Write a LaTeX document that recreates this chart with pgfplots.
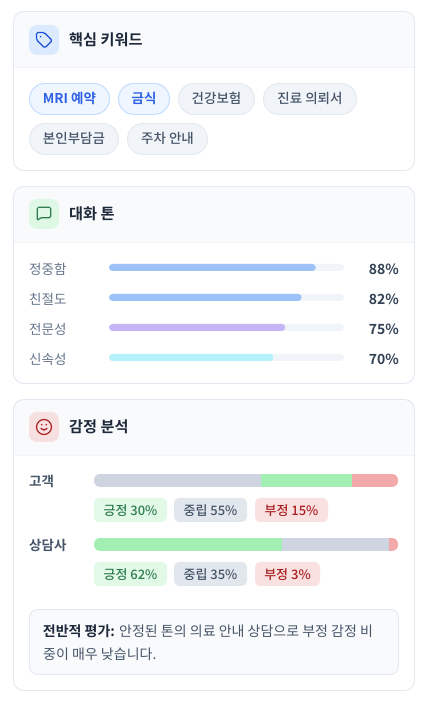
\documentclass[border=0pt]{standalone}
\usepackage{fontspec}
\setmainfont{Noto Sans CJK KR}[BoldFont={Noto Sans CJK KR Bold}]
\newfontfamily\med{Noto Sans CJK KR Medium}
\usepackage{pgfplots}
\pgfplotsset{compat=1.18}
\definecolor{cardline}{HTML}{E2E8F0}
\definecolor{headbg}{HTML}{F8FAFC}
\definecolor{headline}{HTML}{F1F5F9}
\definecolor{ink}{HTML}{1E293B}
\definecolor{slate}{HTML}{475569}
\definecolor{muted}{HTML}{64748B}
\definecolor{dark}{HTML}{334155}
\definecolor{tagbg}{HTML}{DBEAFE}
\definecolor{tagfg}{HTML}{1D4ED8}
\definecolor{greenbg}{HTML}{DFF8E5}
\definecolor{greenfg}{HTML}{2E7D4F}
\definecolor{redbg}{HTML}{F8E0E0}
\definecolor{redfg}{HTML}{A92020}
\definecolor{chipblue}{HTML}{EFF6FF}
\definecolor{chipbluel}{HTML}{BFDBFE}
\definecolor{chipbluet}{HTML}{2F62E6}
\definecolor{chipgrey}{HTML}{F1F5F9}
\definecolor{barblue}{HTML}{9CC2F7}
\definecolor{barviolet}{HTML}{C4B5F7}
\definecolor{barcyan}{HTML}{B5F1FA}
\definecolor{track}{HTML}{F1F5F9}
\definecolor{segpos}{HTML}{A3EEB2}
\definecolor{segneu}{HTML}{CFD5E0}
\definecolor{segneg}{HTML}{F2A9A9}
\definecolor{pillpos}{HTML}{E2F9E8}
\definecolor{pillposT}{HTML}{2E7D4F}
\definecolor{pillneu}{HTML}{E2E6ED}
\definecolor{pillneg}{HTML}{F9E1E1}
\newcommand\sz[1]{\fontsize{#1}{#1}\selectfont}
\newcommand\card[3]{%
  \fill[white,rounded corners=10pt] (13.5,#1) rectangle (414.5,#3);
  \begin{scope}
    \clip[rounded corners=10pt] (13.5,#1) rectangle (414.5,#3);
    \fill[headbg] (13.5,#1) rectangle (414.5,#2);
    \draw[headline,line width=.8pt] (13.5,#2) -- (414.5,#2);
  \end{scope}
  \draw[cardline,line width=.9pt,rounded corners=10pt] (13.5,#1) rectangle (414.5,#3);
}
\newcommand\chip[7]{%
  \draw[#5,fill=#4,line width=.9pt,rounded corners=15.5pt] (#1+.5,#3+.5) rectangle (#2-.5,#3+31.5);
  \node[anchor=base,inner sep=0pt,text=#6] at ({(#1+#2)/2},#3+21) {\sz{13.5}#7};
}
\newcommand\pill[6]{%
  \fill[#4,rounded corners=5pt] (#1,#3) rectangle (#2,#3+24);
  \node[anchor=base,inner sep=0pt,text=#5] at ({(#1+#2)/2},#3+17.2) {\sz{13}\med #6};
}
\newcommand\txt[4]{\node[anchor=base west,inner sep=0pt,text=#3] at (#1,#2) {#4};}
\newcommand\txr[4]{\node[anchor=base east,inner sep=0pt,text=#3] at (#1,#2) {#4};}
\begin{document}
\begin{tikzpicture}
\path (0pt,0pt) rectangle (431pt,708pt);
\begin{scope}[x=1pt,y=-1pt,yshift=708pt]
  \card{11.5}{67.5}{170.5}
  \card{186.5}{242.5}{383.5}
  \card{399.5}{455.5}{690.5}
  \fill[tagbg,rounded corners=8pt] (29,25) rectangle (59,55);
  \fill[greenbg,rounded corners=8pt] (29,199) rectangle (59,229);
  \fill[redbg,rounded corners=8pt] (29,412) rectangle (59,442);
  \begin{scope}[shift={(35,31)},x=.75pt,y=-.75pt,tagfg,line width=1.2pt,line join=round]
    \draw[rounded corners=1.4pt] (2,2) -- (12.2,2) -- (22.9,12.7) -- (12.9,22.7) -- (2,11.8) -- cycle;
    \fill (7.5,7.5) circle (1.1);
  \end{scope}
  \begin{scope}[shift={(35,205)},x=.75pt,y=-.75pt,greenfg,line width=1.2pt,line join=round]
    \draw[rounded corners=1.4pt] (3,3) -- (21,3) -- (21,17) -- (7,17) -- (3,21) -- cycle;
  \end{scope}
  \begin{scope}[shift={(35,418)},x=.75pt,y=-.75pt,redfg,line width=1.2pt,line cap=round]
    \draw (12,12) circle (10);
    \draw (8,14) .. controls (9,15.5) and (10.5,16) .. (12,16) .. controls (13.5,16) and (15,15.5) .. (16,14);
    \fill (9,9) circle (1.1);
    \fill (15,9) circle (1.1);
  \end{scope}
  \txt{69}{46}{ink}{\sz{15.2}\bfseries 핵심 키워드}
  \txt{69}{220}{ink}{\sz{15.2}\bfseries 대화 톤}
  \txt{69}{433}{ink}{\sz{15.2}\bfseries 감정 분석}
  \chip{29}{110}{83}{chipblue}{chipbluel}{chipbluet}{\bfseries MRI 예약}
  \chip{118}{170}{83}{chipblue}{chipbluel}{chipbluet}{\bfseries 금식}
  \chip{178}{255}{83}{chipgrey}{cardline}{slate}{\med 건강보험}
  \chip{263}{357}{83}{chipgrey}{cardline}{slate}{\med 진료 의뢰서}
  \chip{29}{119}{123}{chipgrey}{cardline}{slate}{\med 본인부담금}
  \chip{127}{208}{123}{chipgrey}{cardline}{slate}{\med 주차 안내}
  \txt{29}{274.5}{muted}{\sz{13.5}정중함}
  \txt{29}{304.5}{muted}{\sz{13.5}친절도}
  \txt{29}{334.5}{muted}{\sz{13.5}전문성}
  \txt{29}{364.5}{muted}{\sz{13.5}신속성}
  \txr{399}{274.8}{dark}{\sz{14}\bfseries 88\%}
  \txr{399}{304.8}{dark}{\sz{14}\bfseries 82\%}
  \txr{399}{334.8}{dark}{\sz{14}\bfseries 75\%}
  \txr{399}{364.8}{dark}{\sz{14}\bfseries 70\%}
  \txt{29}{487}{slate}{\sz{13.5}\bfseries 고객}
  \txt{29}{551}{slate}{\sz{13.5}\bfseries 상담사}
  \pill{94}{167}{498}{pillpos}{pillposT}{긍정 30\%}
  \pill{174}{247}{498}{pillneu}{slate}{중립 55\%}
  \pill{255}{328}{498}{pillneg}{redfg}{부정 15\%}
  \pill{94}{167}{562}{pillpos}{pillposT}{긍정 62\%}
  \pill{174}{247}{562}{pillneu}{slate}{중립 35\%}
  \pill{255}{320}{562}{pillneg}{redfg}{부정 3\%}
  \draw[cardline,fill=headbg,line width=.9pt,rounded corners=8pt] (29.5,609.5) rectangle (398.5,674.5);
  \txt{43}{637}{slate}{\sz{14}{\bfseries\color{ink}\kern-0.3pt 전반적 평가:} 안정된 톤의 의료 안내 상담으로 부정 감정 비}
  \txt{43}{660}{slate}{\sz{14}중이 매우 낮습니다.}
\end{scope}
\begin{axis}[at={(109pt,335.5pt)},anchor=south west,scale only axis,width=235pt,height=120pt,
  hide axis,clip=false,xmin=0,xmax=100,ymin=-0.5,ymax=3.5,y dir=reverse,
  xbar,bar width=7pt,bar shift=0pt]
  \addplot[draw=none,fill=track,rounded corners=3.5pt] coordinates {(100,0) (100,1) (100,2) (100,3)};
  \addplot[draw=none,fill=barblue,rounded corners=3.5pt] coordinates {(88,0) (82,1)};
  \addplot[draw=none,fill=barviolet,rounded corners=3.5pt] coordinates {(75,2)};
  \addplot[draw=none,fill=barcyan,rounded corners=3.5pt] coordinates {(70,3)};
\end{axis}
\begin{scope}
\clip[rounded corners=6pt] (94pt,221pt) rectangle (398pt,234pt);
\begin{axis}[at={(94pt,221pt)},anchor=south west,scale only axis,width=304pt,height=13pt,
  hide axis,xmin=0,xmax=100,ymin=-0.5,ymax=0.5,xbar stacked,bar width=13pt]
  \addplot[draw=none,fill=segneu] coordinates {(55,0)};
  \addplot[draw=none,fill=segpos] coordinates {(30,0)};
  \addplot[draw=none,fill=segneg] coordinates {(15,0)};
\end{axis}
\end{scope}
\begin{scope}
\clip[rounded corners=6pt] (94pt,157pt) rectangle (398pt,170pt);
\begin{axis}[at={(94pt,157pt)},anchor=south west,scale only axis,width=304pt,height=13pt,
  hide axis,xmin=0,xmax=100,ymin=-0.5,ymax=0.5,xbar stacked,bar width=13pt]
  \addplot[draw=none,fill=segpos] coordinates {(62,0)};
  \addplot[draw=none,fill=segneu] coordinates {(35,0)};
  \addplot[draw=none,fill=segneg] coordinates {(3,0)};
\end{axis}
\end{scope}
\end{tikzpicture}
\end{document}
